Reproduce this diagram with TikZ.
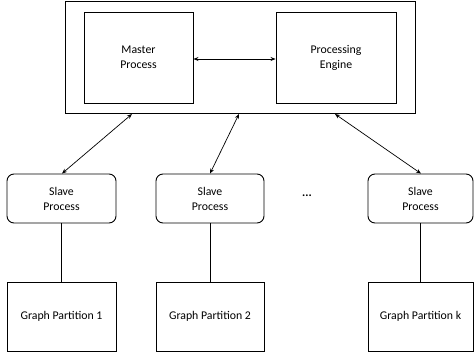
\documentclass[tikz,border=0pt]{standalone}
\usepackage{fontspec}
\setmainfont{Carlito}
\usetikzlibrary{arrows.meta}
\begin{document}
\begin{tikzpicture}[x=1pt,y=-1pt,
  box/.style={draw,line width=0.9pt,inner sep=0pt,align=center,font=\fontsize{11.8}{15}\selectfont},
  slavebox/.style={box,rounded corners=7pt},
  link/.style={line width=0.7pt,{Stealth[length=5pt,width=4pt]}-{Stealth[length=5pt,width=4pt]}},
  plain/.style={line width=0.9pt}]
\useasboundingbox (0,0) rectangle (474,356);
\node[box,minimum width=350pt,minimum height=112pt] (outer) at (240,57.5) {};
\node[box,minimum width=109pt,minimum height=91pt] (master) at (138.5,57.5) {Master\\Process};
\node[box,minimum width=120pt,minimum height=91pt] (engine) at (336,57.5) {Processing\\Engine};
\draw[link] (master.east |- 0,59) -- (engine.west |- 0,59);
\node[slavebox,minimum width=109pt,minimum height=49pt] (s1) at (61.5,198.5) {Slave\\Process};
\node[slavebox,minimum width=108pt,minimum height=49pt] (s2) at (210,198.5) {Slave\\Process};
\node[slavebox,minimum width=105pt,minimum height=49pt] (s3) at (420.5,198.5) {Slave\\Process};
\node[font=\fontsize{12}{15}\selectfont\bfseries] (dots) at (307,196) {...};
\node[box,minimum width=109pt,minimum height=69pt] (g1) at (61.5,316.5) {Graph Partition 1};
\node[box,minimum width=108pt,minimum height=69pt] (g2) at (210,316.5) {Graph Partition 2};
\node[box,minimum width=105pt,minimum height=69pt] (g3) at (420.5,316.5) {Graph Partition k};
\coordinate (o1) at (132,114);
\coordinate (o2) at (239,114);
\coordinate (o3) at (335,114);
\draw[link] (s1.north -| 62,0) -- (o1);
\draw[link] (s2.north) -- (o2);
\draw[link] (s3.north -| 421,0) -- (o3);
\draw[plain] (s1.south) -- (g1.north);
\draw[plain] (s2.south) -- (g2.north);
\draw[plain] (s3.south) -- (g3.north);
\end{tikzpicture}
\end{document}
